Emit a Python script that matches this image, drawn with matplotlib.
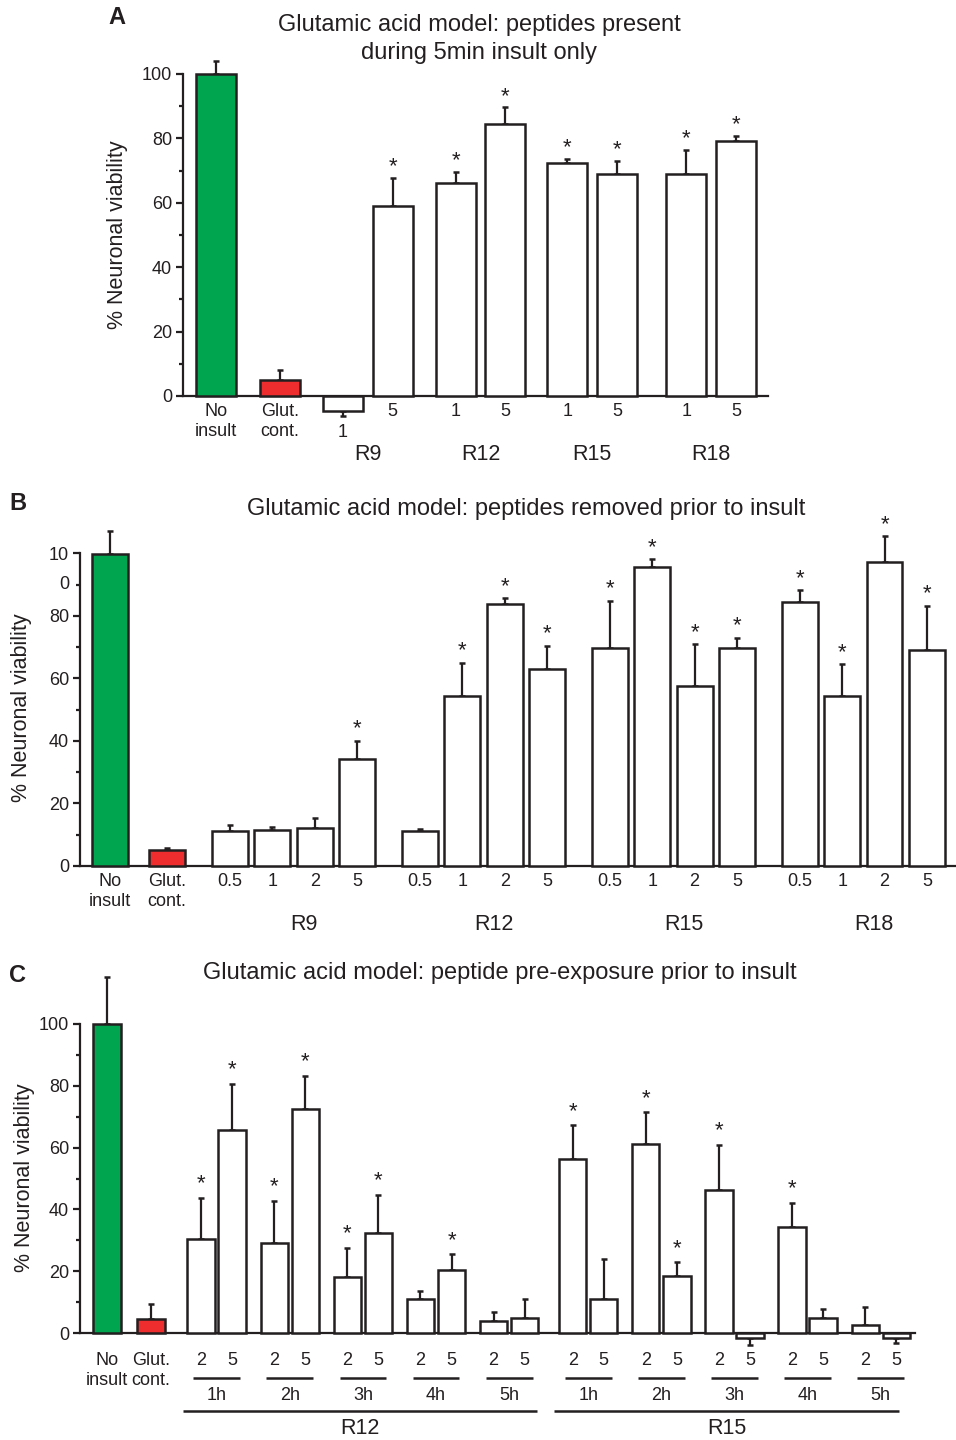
import numpy as np
import matplotlib
matplotlib.use("Agg")
from matplotlib import pyplot as plt

plt.rcParams['font.family'] = ['Liberation Sans', 'DejaVu Sans']

W, H = 956, 1440
GREEN = '#00a54f'
RED = '#ee2d2f'
EDGE = '#231f20'
TICK_FS = 13
LAB_FS = 15.5
TITLE_FS = 17

# ---- panel A: peptides present during 5 min insult only ----
a_groups = ['R9', 'R12', 'R15', 'R18']
a_doses = ['1', '5']
a_ctrl = [100, 4.9]
a_ctrl_err = [104, 8]
a_vals = [-4.7, 58.9, 66.2, 84.4, 72.5, 68.9, 68.9, 79.2]
a_err = [-6.2, 67.7, 69.7, 89.6, 73.5, 73.0, 76.5, 80.7]
a_star = [0, 1, 1, 1, 1, 1, 1, 1]

# ---- panel B: peptides removed prior to insult ----
b_groups = ['R9', 'R12', 'R15', 'R18']
b_doses = ['0.5', '1', '2', '5']
b_ctrl = [99.7, 5.2]
b_ctrl_err = [107.3, 5.7]
b_vals = [11.1, 11.6, 12.0, 34.3,
          11.1, 54.3, 83.7, 63.1,
          69.7, 95.6, 57.7, 69.7,
          84.4, 54.3, 97.2, 69.0]
b_err = [13.0, 12.4, 15.4, 40.1,
         11.9, 65.1, 85.6, 70.5,
         84.8, 98.1, 71.0, 73.0,
         88.2, 64.6, 105.5, 83.3]
b_star = [0, 0, 0, 1,
          0, 1, 1, 1,
          1, 1, 1, 1,
          1, 1, 1, 1]

# ---- panel C: peptide pre-exposure prior to insult ----
c_peptides = ['R12', 'R15']
c_hours = ['1h', '2h', '3h', '4h', '5h']
c_doses = ['2', '5']
c_ctrl = [100, 4.6]
c_ctrl_err = [115.3, 9.5]
c_vals = [30.3, 65.6, 29.1, 72.5, 18.2, 32.3, 11.0, 20.4, 3.8, 4.7,
          56.2, 11.0, 61.1, 18.3, 46.2, -1.6, 34.4, 4.7, 2.5, -1.6]
c_err = [43.7, 80.6, 42.8, 83.3, 27.6, 44.7, 13.7, 25.5, 6.8, 11.0,
         67.2, 23.9, 71.4, 22.9, 61.0, -3.8, 42.2, 7.8, 8.3, -3.2]
c_star = [1, 1, 1, 1, 1, 1, 0, 1, 0, 0,
          1, 0, 1, 1, 1, 0, 1, 0, 0, 0]


def layout(sizes, gaps):
    xs = []
    x = 0.0
    for i, n in enumerate(sizes):
        if i:
            x += gaps[i - 1]
        for j in range(n):
            xs.append(x)
            x += 1
        x -= 1
    return np.array(xs)


def make_axes(fig, x0, x1, y_zero, y_hund, ylim):
    ppu = (y_zero - y_hund) / 100.0
    top = y_zero - ylim[1] * ppu
    bottom = y_zero - ylim[0] * ppu
    ax = fig.add_axes([x0 / W, 1 - bottom / H, (x1 - x0) / W, (bottom - top) / H])
    ax.set_ylim(*ylim)
    ax.patch.set_alpha(0)
    for s in ['top', 'right']:
        ax.spines[s].set_visible(False)
    ax.spines['left'].set_bounds(0, 100)
    ax.spines['bottom'].set_position(('data', 0))
    for s in ['left', 'bottom']:
        ax.spines[s].set_linewidth(1.6)
        ax.spines[s].set_color(EDGE)
    ax.set_xticks([])
    ax.set_yticks(np.arange(0, 101, 20))
    ax.set_yticks(np.arange(10, 100, 20), minor=True)
    ax.tick_params(axis='y', which='major', length=5, width=1.6, color=EDGE,
                   labelsize=TICK_FS, pad=3, labelcolor=EDGE)
    ax.tick_params(axis='y', which='minor', length=3, width=1.6, color=EDGE)
    # pixel -> data helper for y
    ax._ypx = lambda p: (y_zero - p) / ppu
    return ax


def draw_bars(ax, xs, vals, errs, width, colors, stars, star_gap):
    ax.bar(xs, vals, width=width, color=colors, edgecolor=EDGE, linewidth=1.8, zorder=3)
    vals = np.array(vals)
    errs = np.array(errs)
    lower = np.where(errs < vals, vals - errs, 0)
    upper = np.where(errs >= vals, errs - vals, 0)
    ax.errorbar(xs, vals, yerr=[lower, upper], fmt='none', ecolor=EDGE,
                elinewidth=1.6, capsize=2, capthick=1.8, zorder=2)
    for x, e, s in zip(xs, errs, stars):
        if s:
            ax.text(x, e + star_gap, '*', ha='center', va='center', fontsize=16,
                    color=EDGE, zorder=4)


fig = plt.figure(figsize=(W / 100, H / 100), dpi=100)

# ================= Panel A =================
ax = make_axes(fig, 183, 768, 396, 74, (-8, 108))
xa = layout([1, 1, 2, 2, 2, 2], [1.28, 1.26, 1.26, 1.24, 1.38])
ax.set_xlim(xa[0] - 0.66, xa[-1] + 0.64)
colors = [GREEN, RED] + ['white'] * len(a_vals)
draw_bars(ax, xa, a_ctrl + a_vals, a_ctrl_err + a_err, 0.8, colors,
          [0, 0] + a_star, 3.5)
for x, t in zip(xa[:2], ['No\ninsult', 'Glut.\ncont.']):
    ax.text(x, ax._ypx(403), t, ha='center', va='top', fontsize=TICK_FS,
            linespacing=1.25, color=EDGE)
for i, x in enumerate(xa[2:]):
    lab = a_doses[i % 2]
    yp = 424 if a_vals[i] < 0 else 403
    ax.text(x, ax._ypx(yp), lab, ha='center', va='top', fontsize=TICK_FS, color=EDGE)
for g, name in enumerate(a_groups):
    xc = xa[2 + 2 * g:4 + 2 * g].mean()
    ax.text(xc, ax._ypx(455), name, ha='center', va='center', fontsize=LAB_FS, color=EDGE)
fig.text(479 / W, 1 - 39 / H, 'Glutamic acid model: peptides present\nduring 5min insult only',
         ha='center', va='center', fontsize=TITLE_FS, linespacing=1.4, color=EDGE)
fig.text(117 / W, 1 - 18 / H, 'A', ha='center', va='center', fontsize=17,
         fontweight='bold', color=EDGE)
fig.text(118 / W, 1 - 235 / H, '% Neuronal viability', rotation=90, ha='center',
         va='center', fontsize=LAB_FS, color=EDGE)

# ================= Panel B =================
ax = make_axes(fig, 80, 956, 866, 553.5, (-5, 112))
xb = layout([1, 1, 4, 4, 4, 4], [1.35, 1.49, 1.49, 1.49, 1.49])
ax.set_xlim(xb[0] - 0.71, xb[-1] + 0.69)
ax.set_yticklabels(['0', '20', '40', '60', '80', '10'])
ax.text(-0.012, 90, '0', transform=ax.get_yaxis_transform(), ha='right',
        va='center', fontsize=TICK_FS, color=EDGE)
colors = [GREEN, RED] + ['white'] * len(b_vals)
draw_bars(ax, xb, b_ctrl + b_vals, b_ctrl_err + b_err, 0.85, colors,
          [0, 0] + b_star, 3.8)
for x, t in zip(xb[:2], ['No\ninsult', 'Glut.\ncont.']):
    ax.text(x, ax._ypx(873), t, ha='center', va='top', fontsize=TICK_FS,
            linespacing=1.25, color=EDGE)
for i, x in enumerate(xb[2:]):
    ax.text(x, ax._ypx(873), b_doses[i % 4], ha='center', va='top', fontsize=TICK_FS,
            color=EDGE)
for g, name in enumerate(b_groups):
    xc = xb[2 + 4 * g:6 + 4 * g].mean() + 0.25
    ax.text(xc, ax._ypx(925), name, ha='center', va='center', fontsize=LAB_FS, color=EDGE)
fig.text(526 / W, 1 - 509 / H, 'Glutamic acid model: peptides removed prior to insult',
         ha='center', va='center', fontsize=TITLE_FS, color=EDGE)
fig.text(18 / W, 1 - 503 / H, 'B', ha='center', va='center', fontsize=17,
         fontweight='bold', color=EDGE)
fig.text(22 / W, 1 - 708 / H, '% Neuronal viability', rotation=90, ha='center',
         va='center', fontsize=LAB_FS, color=EDGE)

# ================= Panel C =================
ax = make_axes(fig, 80, 915, 1333, 1024, (-6, 118))
xc_ = layout([1, 1] + [2] * 10, [1.41, 1.61, 1.35, 1.35, 1.35, 1.35, 1.54,
                                  1.35, 1.35, 1.35, 1.35])
ax.set_xlim(xc_[0] - 0.87, xc_[-1] + 0.6)
colors = [GREEN, RED] + ['white'] * len(c_vals)
draw_bars(ax, xc_, c_ctrl + c_vals, c_ctrl_err + c_err, 0.88, colors,
          [0, 0] + c_star, 4.5)
for x, t in zip(xc_[:2], ['No\ninsult', 'Glut.\ncont.']):
    ax.text(x, ax._ypx(1352), t, ha='center', va='top', fontsize=TICK_FS,
            linespacing=1.2, color=EDGE)
xt = xc_[2:]
for i, x in enumerate(xt):
    ax.text(x, ax._ypx(1352), c_doses[i % 2], ha='center', va='top', fontsize=TICK_FS,
            color=EDGE)
for k in range(len(c_peptides) * len(c_hours)):
    x0, x1 = xt[2 * k], xt[2 * k + 1]
    ax.plot([x0 - 0.25, x1 + 0.25], [ax._ypx(1378)] * 2, color=EDGE, lw=1.8,
            clip_on=False, solid_capstyle='butt')
    ax.text((x0 + x1) / 2, ax._ypx(1395), c_hours[k % 5], ha='center', va='center',
            fontsize=TICK_FS, color=EDGE)
for p, name in enumerate(c_peptides):
    seg = xt[10 * p:10 * p + 10]
    lo, hi = (seg[0] - 0.58, seg[-1] + 0.38) if p == 0 else (seg[0] - 0.6, seg[-1] + 0.1)
    ax.plot([lo, hi], [ax._ypx(1411)] * 2, color=EDGE, lw=1.8, clip_on=False,
            solid_capstyle='butt')
    ax.text((lo + hi) / 2, ax._ypx(1428), name, ha='center', va='center',
            fontsize=LAB_FS, color=EDGE)
fig.text(500 / W, 1 - 973 / H, 'Glutamic acid model: peptide pre-exposure prior to insult',
         ha='center', va='center', fontsize=TITLE_FS, color=EDGE)
fig.text(18 / W, 1 - 975 / H, 'C', ha='center', va='center', fontsize=17,
         fontweight='bold', color=EDGE)
fig.text(25 / W, 1 - 1178 / H, '% Neuronal viability', rotation=90, ha='center',
         va='center', fontsize=LAB_FS, color=EDGE)

fig.savefig('out.png', dpi=100)
plt.close(fig)
